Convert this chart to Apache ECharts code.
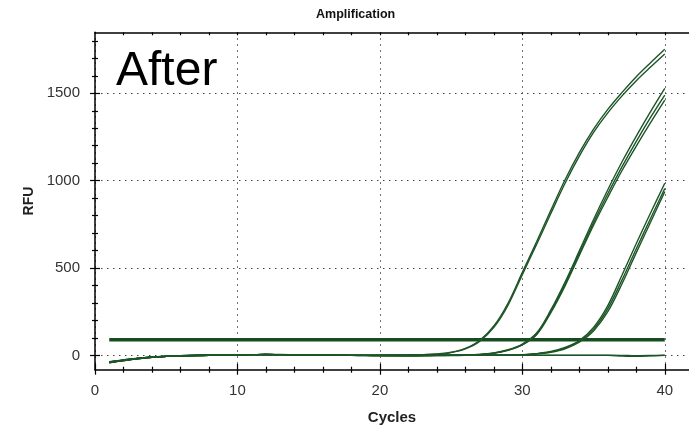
<!DOCTYPE html>
<html>
<head>
<meta charset="utf-8">
<script src="https://cdn.jsdelivr.net/npm/echarts@6/dist/echarts.min.js"></script>
<style>
  html, body { margin: 0; padding: 0; background: #fff; }
  #chart { width: 689px; height: 427px; }
</style>
</head>
<body>
<div id="chart"></div>
<script>
// ---------- data ----------
const cycles = [1,2,3,4,5,6,7,8,9,10,11,12,13,14,15,16,17,18,19,20,21,22,23,24,25,26,27,28,29,30,31,32,33,34,35,36,37,38,39,40];

const g1a = [-38,-27,-17,-10,-6,-3,-1,0,2,3,4,5,4,3,2,1,0,0,0,0,1,2,4,8,18,40,85,168,300,475,650,830,1005,1160,1295,1408,1505,1595,1675,1752];
const g1b = [-42,-30,-19,-11,-6,-3,-1,1,2,3,4,5,4,3,2,1,0,0,0,0,1,2,4,7,16,37,80,160,288,462,635,812,985,1140,1276,1388,1485,1572,1650,1725];

const g2a = [-39,-28,-18,-11,-6,-3,-1,0,2,3,4,5,4,3,2,1,0,0,0,-1,-1,-1,0,0,1,2,5,14,32,65,128,260,420,598,778,948,1108,1255,1395,1528];
const g2b = [-41,-29,-19,-11,-6,-3,-1,1,2,3,4,4,4,3,2,1,0,0,-1,-1,-1,-1,0,0,1,2,5,13,30,62,122,250,408,584,760,925,1080,1225,1362,1490];
const g2c = [-37,-27,-17,-10,-5,-2,0,1,2,3,4,5,4,3,2,1,1,0,0,0,-1,0,0,1,1,2,4,12,29,60,118,244,398,572,745,905,1058,1198,1332,1461];

const g3a = [-40,-28,-18,-11,-6,-3,-1,0,2,3,4,5,4,3,2,1,0,0,0,-1,-1,-1,-1,0,0,0,1,1,2,4,10,22,45,85,160,285,460,640,815,985];
const g3b = [-38,-27,-17,-10,-5,-2,0,1,2,3,4,5,4,3,2,1,1,0,0,0,-1,-1,0,0,0,1,1,1,2,3,9,20,42,80,150,268,432,610,783,955];
const g3c = [-42,-30,-19,-11,-6,-3,-1,0,1,3,4,4,4,3,2,1,0,0,-1,-1,-1,-1,-1,0,0,0,0,1,1,3,8,18,38,75,140,250,410,588,762,937];

const neg1 = [-40,-29,-18,-11,-6,-3,-1,0,1,3,4,5,5,4,3,2,1,0,0,-1,-1,-2,-2,-1,-1,0,0,0,0,0,0,0,0,0,0,0,-4,-6,-3,0];
const neg2 = [-36,-26,-16,-10,-5,-2,0,1,2,3,4,4,4,3,2,1,1,0,0,0,0,-1,-1,-1,0,0,1,1,1,1,1,1,1,1,1,1,0,-2,-1,1];

const thresholdCycles = [1, 40];
const thresholdValues = [90, 90];

const xMajorTicks = [0, 10, 20, 30, 40];
const xMinorTicks = [2,4,6,8,12,14,16,18,22,24,26,28,32,34,36,38];
const xTopTicks = [2,4,6,8,10,12,14,16,18,20,22,24,26,28,30,32,34,36,38,40];
const yMajorTicks = [0, 500, 1000, 1500];
const yMinorTicks = [100,200,300,400,600,700,800,900,1100,1200,1300,1400,1600,1700,1800];

// ---------- chart ----------
const FONT = '"Liberation Sans", Arial, Helvetica, sans-serif';
const X_MIN = 0, X_MAX = 41.7, Y_MIN = -82, Y_MAX = 1849;
const AXIS_COLOR = '#000';

function extraAxis(kind, position, ticks, len, inside, showLine) {
  return {
    type: 'value', position: position,
    min: kind === 'x' ? X_MIN : Y_MIN,
    max: kind === 'x' ? X_MAX : Y_MAX,
    axisLine: { show: !!showLine, onZero: false, lineStyle: { color: AXIS_COLOR, width: 1.5 } },
    axisTick: { show: true, inside: inside, length: len, customValues: ticks,
                lineStyle: { color: AXIS_COLOR, width: 1.2 } },
    axisLabel: { show: false },
    splitLine: { show: false }
  };
}

const curves = [g1a, g1b, g2a, g2b, g2c, g3a, g3b, g3c, neg1, neg2];

const series = [{
  type: 'line',
  data: thresholdCycles.map((c, i) => [c, thresholdValues[i]]),
  showSymbol: false, symbol: 'none',
  lineStyle: { color: '#174b20', width: 3.5 },
  silent: true, z: 2
}].concat(curves.map(arr => ({
  type: 'line',
  data: cycles.map((c, i) => [c, arr[i]]),
  showSymbol: false, symbol: 'none',
  smooth: 0.35,
  lineStyle: { color: '#1d5527', width: 1.4 },
  silent: true, z: 3
})));

const chart = echarts.init(document.getElementById('chart'), null, { renderer: 'canvas' });
chart.setOption({
  animation: false,
  backgroundColor: '#fff',
  title: {
    text: 'Amplification', left: 316, top: 8, padding: 0,
    textStyle: { fontSize: 12.5, fontWeight: 'bold', color: '#111', fontFamily: FONT }
  },
  grid: { left: 95, right: 0, top: 32.3, bottom: 57.3, containLabel: false, outerBoundsMode: 'none' },
  xAxis: [
    {
      type: 'value', position: 'bottom', min: X_MIN, max: X_MAX,
      name: 'Cycles', nameLocation: 'middle', nameGap: 41,
      nameTextStyle: { fontSize: 15, fontWeight: 'bold', color: '#222', fontFamily: FONT },
      axisLine: { show: true, onZero: false, lineStyle: { color: AXIS_COLOR, width: 1.5 } },
      axisTick: { show: true, inside: false, length: 5, customValues: xMajorTicks,
                  lineStyle: { color: AXIS_COLOR, width: 1.2 } },
      axisLabel: { show: true, customValues: xMajorTicks, margin: 14, fontSize: 15,
                   color: '#333', fontFamily: FONT, formatter: v => String(v) },
      splitLine: { show: true, lineStyle: { color: '#444', width: 1, type: [1.5, 4.5] } }
    },
    extraAxis('x', 'bottom', xMajorTicks, 6, true, false),
    extraAxis('x', 'bottom', xMinorTicks, 3, false, false),
    extraAxis('x', 'bottom', xMinorTicks, 3, true, false),
    extraAxis('x', 'top', xTopTicks, 3, true, true)
  ],
  yAxis: [
    {
      type: 'value', position: 'left', min: Y_MIN, max: Y_MAX,
      name: 'RFU', nameLocation: 'middle', nameGap: 50,
      nameTextStyle: { fontSize: 14, fontWeight: 'bold', color: '#222', fontFamily: FONT },
      axisLine: { show: true, onZero: false, lineStyle: { color: AXIS_COLOR, width: 1.5 } },
      axisTick: { show: true, inside: false, length: 5, customValues: yMajorTicks,
                  lineStyle: { color: AXIS_COLOR, width: 1.2 } },
      axisLabel: { show: true, customValues: yMajorTicks, margin: 15, fontSize: 15,
                   color: '#333', fontFamily: FONT, formatter: v => String(v) },
      splitLine: { show: true, lineStyle: { color: '#444', width: 1, type: [1.5, 4.5] } }
    },
    extraAxis('y', 'left', yMajorTicks, 5, true, false),
    extraAxis('y', 'left', yMinorTicks, 3, false, false),
    extraAxis('y', 'left', yMinorTicks, 3, true, false)
  ],
  graphic: [{
    type: 'text', x: 116, y: 72, silent: true,
    style: { text: 'After', font: '48px ' + FONT, fill: '#000',
             align: 'left', verticalAlign: 'middle' }
  }],
  series: series
});
</script>
</body>
</html>
